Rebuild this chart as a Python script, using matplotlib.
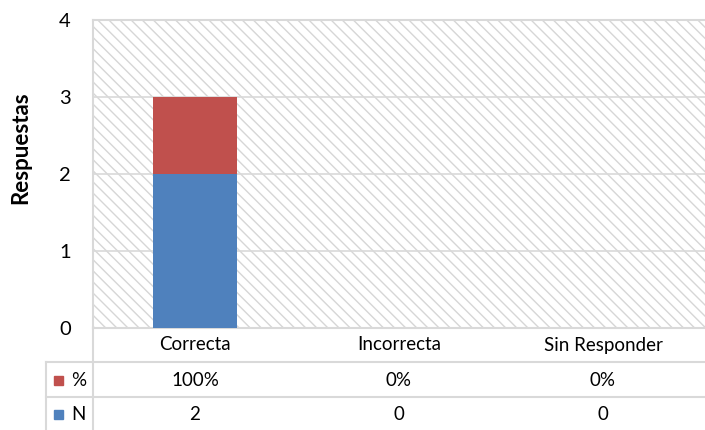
import matplotlib.pyplot as plt
import matplotlib.transforms as mtransforms
from matplotlib.lines import Line2D
from matplotlib.patches import Rectangle

plt.rcParams['font.family'] = ['Lato', 'DejaVu Sans']
plt.rcParams['hatch.linewidth'] = 1.0

categories = ['Correcta', 'Incorrecta', 'Sin Responder']
n_values = [2, 0, 0]
pct_values = [1.0, 0.0, 0.0]
n_labels = ['2', '0', '0']
pct_labels = ['100%', '0%', '0%']

BLUE = '#4f81bd'
RED = '#c0504d'
GRID = '#d9d9d9'

W, H = 705, 430
fig = plt.figure(figsize=(W / 100, H / 100), dpi=100)

# plot area in pixels: left 93, right 705, top 20, bottom 328
ax = fig.add_axes([93 / W, (H - 328) / H, (W - 93) / W, 308 / H])

def fy(py):
    return 1 - py / H

def fx(px):
    return px / W

# hatched background
ax.set_facecolor('white')
ax.add_patch(Rectangle((0, 0), 1, 1, transform=ax.transAxes, facecolor='none',
                       edgecolor='#d6d6d6', hatch='\\\\\\', linewidth=0, zorder=0))

x = list(range(len(categories)))
ax.bar(x, n_values, width=0.41, color=BLUE, zorder=3)
ax.bar(x, pct_values, width=0.41, bottom=n_values, color=RED, zorder=3)

ax.set_xlim(-0.5, 2.5)
ax.set_ylim(0, 4)
ax.set_yticks([0, 1, 2, 3, 4])
ax.set_yticklabels(['0', '1', '2', '3', '4'], fontsize=14.5)
ax.tick_params(axis='y', length=0, pad=16)
ax.set_xticks([])
ax.yaxis.grid(True, color=GRID, linewidth=1.2, zorder=1)
ax.set_axisbelow(True)

for side in ['left', 'top', 'bottom']:
    ax.spines[side].set_color(GRID)
    ax.spines[side].set_linewidth(1.5)
ax.spines['right'].set_visible(False)

fig.text(fx(21), fy(148), 'Respuestas', rotation=90, ha='center', va='center',
         fontsize=16, fontweight='bold')

# data table under the chart
tr = mtransforms.blended_transform_factory(ax.transData, fig.transFigure)
for i, cat in enumerate(categories):
    ax.text(i, fy(345), cat, transform=tr, ha='center', va='center', fontsize=13.5)
    ax.text(i, fy(380), pct_labels[i], transform=tr, ha='center', va='center', fontsize=13.5)
    ax.text(i, fy(414), n_labels[i], transform=tr, ha='center', va='center', fontsize=13.5)

lines = [
    ((fx(46), fx(W)), (fy(362), fy(362))),
    ((fx(46), fx(W)), (fy(397), fy(397))),
    ((fx(46), fx(46)), (fy(362), fy(H))),
    ((fx(93), fx(93)), (fy(328), fy(H))),
]
for xs, ys in lines:
    fig.add_artist(Line2D(xs, ys, color=GRID, linewidth=1.5))

# legend keys in the table
for py, color, label in [(380, RED, '%'), (414, BLUE, 'N')]:
    fig.add_artist(Rectangle((fx(54), fy(py + 4.5)), 9 / W, 9 / H, color=color,
                             transform=fig.transFigure))
    fig.text(fx(71), fy(py), label, ha='left', va='center', fontsize=13.5)

fig.savefig('out.png', dpi=100)
